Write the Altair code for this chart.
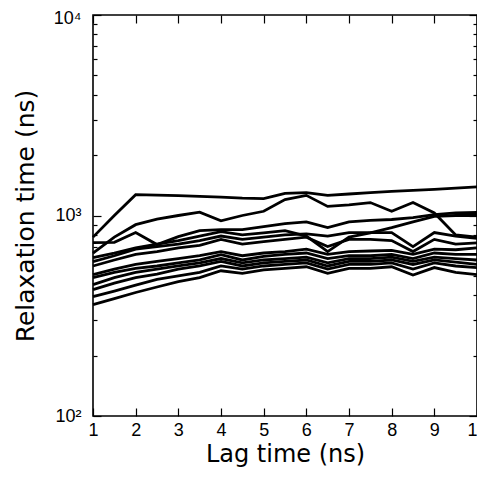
import altair as alt
import pandas as pd

# Lag time (ns)
LAG = [1.0, 1.5, 2.0, 2.5, 3.0, 3.5, 4.0, 4.5, 5.0, 5.5, 6.0, 6.5, 7.0, 7.5, 8.0, 8.5, 9.0, 9.5, 10.0]

# Relaxation time (ns) for each trajectory
S01 = [780, 1000, 1270, 1265, 1255, 1245, 1235, 1220, 1215, 1290, 1300, 1260, 1280, 1300, 1320, 1335, 1350, 1370, 1390]
S02 = [650, 780, 900, 960, 1000, 1040, 940, 1000, 1050, 1200, 1260, 1110, 1130, 1160, 1050, 1160, 1030, 800, 780]
S03 = [733, 735, 822, 716, 785, 840, 851, 850, 880, 910, 930, 870, 930, 945, 955, 975, 1010, 1030, 1035]
S04 = [617, 650, 690, 720, 750, 790, 830, 800, 820, 840, 790, 661, 780, 820, 870, 930, 990, 1000, 1000]
S05 = [589, 630, 680, 700, 720, 750, 790, 760, 780, 800, 810, 790, 822, 822, 822, 700, 822, 790, 770]
S06 = [560, 600, 640, 660, 690, 710, 760, 720, 740, 760, 780, 700, 760, 760, 750, 661, 760, 720, 730]
S07 = [507, 540, 570, 590, 610, 630, 660, 630, 650, 660, 680, 640, 660, 665, 670, 640, 680, 675, 690]
S08 = [490, 520, 545, 560, 580, 600, 638, 600, 625, 640, 650, 610, 630, 630, 640, 610, 650, 640, 640]
S09 = [452, 490, 520, 540, 560, 580, 610, 580, 600, 610, 620, 580, 610, 610, 620, 590, 620, 610, 600]
S10 = [427, 460, 490, 510, 540, 560, 590, 560, 580, 590, 600, 560, 590, 590, 600, 570, 600, 585, 570]
S11 = [394, 420, 450, 480, 500, 520, 560, 540, 560, 570, 580, 540, 570, 570, 580, 540, 580, 560, 550]
S12 = [359, 385, 413, 440, 468, 490, 530, 515, 535, 545, 555, 515, 545, 545, 555, 505, 550, 520, 507]

SERIES = [S01, S02, S03, S04, S05, S06, S07, S08, S09, S10, S11, S12]

X_TICKS = [1, 2, 3, 4, 5, 6, 7, 8, 9, 10]
Y_MAJOR = [100, 1000, 10000]
Y_TICKS = [100, 200, 300, 400, 500, 600, 700, 800, 900,
           1000, 2000, 3000, 4000, 5000, 6000, 7000, 8000, 9000, 10000]

rows = []
for i, s in enumerate(SERIES):
    for x, v in zip(LAG, s):
        rows.append({"lag": x, "tau": v, "series": f"s{i+1:02d}"})
df = pd.DataFrame(rows)

W, H = 384, 401
xs = alt.Scale(domain=[1, 10], nice=False, zero=False)
ys = alt.Scale(type="log", domain=[100, 10000], nice=False)

LABEL_FONT = "Liberation Sans"
TITLE_FONT = "DejaVu Sans"

base = alt.Chart(df)

lines = base.mark_line(color="black", strokeWidth=2.8).encode(
    x=alt.X("lag:Q", scale=xs, title="Lag time (ns)",
            axis=alt.Axis(orient="bottom", values=X_TICKS, ticks=False, domain=False,
                          grid=False, labelFont=LABEL_FONT, labelFontSize=18,
                          labelColor="black", labelPadding=5, titleFont=TITLE_FONT,
                          titleFontSize=24, titleFontWeight="normal", titleColor="black",
                          titlePadding=3, labelFlush=False)),
    y=alt.Y("tau:Q", scale=ys, title="Relaxation time (ns)",
            axis=alt.Axis(orient="left", values=Y_MAJOR, ticks=False, domain=False,
                          grid=False, labelFont=LABEL_FONT, labelFontSize=18,
                          labelColor="black", labelPadding=12,
                          labelOffset={"condition": {"test": "datum.value == 10000", "value": 3}, "value": 0},
                          labelExpr="datum.value == 100 ? '10²' : datum.value == 1000 ? '10³' : '10⁴'",
                          titleFont=TITLE_FONT, titleFontSize=25, titleFontWeight="normal",
                          titleColor="black", titlePadding=15, labelFlush=False)),
    detail="series:N",
)

tick_size_cond = {"condition": {"test": "indexof([100, 1000, 10000], datum.value) >= 0", "value": 8}, "value": 4}

def ytick_layer(orient):
    return base.mark_line(strokeOpacity=0).encode(
        x=alt.X("lag:Q", scale=xs, axis=None),
        y=alt.Y("tau:Q", scale=ys, title=None,
                axis=alt.Axis(orient=orient, offset=-W, values=Y_TICKS, labels=False,
                              domain=False, grid=False, tickColor="black", tickWidth=1.2,
                              tickSize=tick_size_cond)),
        detail="series:N",
    )

def xtick_layer(orient):
    return base.mark_line(strokeOpacity=0).encode(
        x=alt.X("lag:Q", scale=xs, title=None,
                axis=alt.Axis(orient=orient, offset=-H, values=X_TICKS, labels=False,
                              domain=False, grid=False, tickColor="black", tickWidth=1.2,
                              tickSize=8)),
        y=alt.Y("tau:Q", scale=ys, axis=None),
        detail="series:N",
    )

chart = alt.layer(
    lines,
    ytick_layer("right"),
    ytick_layer("left"),
    xtick_layer("top"),
    xtick_layer("bottom"),
).resolve_scale(x="independent", y="independent").properties(
    width=W, height=H,
    padding={"left": 85, "top": 7, "right": 0, "bottom": 53},
    autosize=alt.AutoSizeParams(type="none"),
    background="white",
).configure_view(stroke="black", strokeWidth=1.6)

chart.save("out.html", embed_options={"renderer": "svg", "actions": False})
